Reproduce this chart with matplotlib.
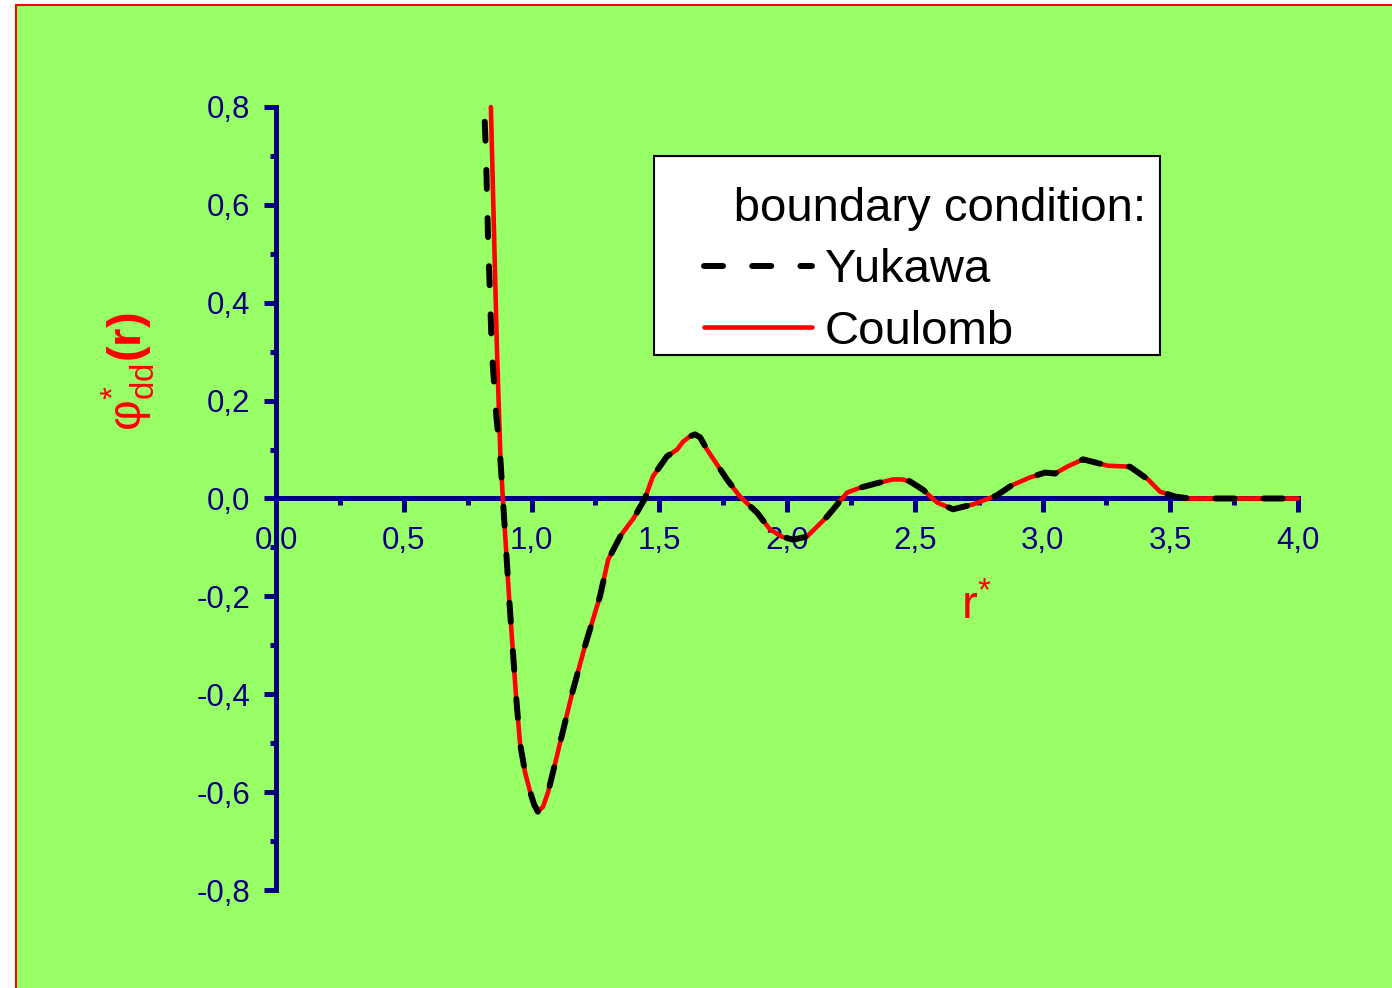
import numpy as np
import matplotlib
matplotlib.use("Agg")
import matplotlib.pyplot as plt
from matplotlib.patches import Rectangle
from matplotlib.ticker import MultipleLocator, FuncFormatter
from matplotlib.legend_handler import HandlerLine2D
from matplotlib.offsetbox import DrawingArea

plt.rcParams['font.family'] = ['Liberation Sans', 'DejaVu Sans']
plt.rcParams['mathtext.fontset'] = 'custom'
plt.rcParams['mathtext.rm'] = 'Liberation Sans'
plt.rcParams['mathtext.it'] = 'Liberation Sans'
plt.rcParams['mathtext.bf'] = 'Liberation Sans:bold'
plt.rcParams['mathtext.default'] = 'regular'
plt.rcParams['lines.scale_dashes'] = False

NAVY = '#000080'
GREEN = '#99ff66'

# common part of both curves (below the first zero crossing)
r_tail = [0.888, 0.912, 0.939, 0.955, 0.975, 0.995, 1.01, 1.025, 1.045, 1.065, 1.10, 1.158,
          1.21, 1.268, 1.30, 1.35, 1.40, 1.444, 1.475, 1.53, 1.57, 1.593,
          1.62, 1.64, 1.66, 1.687, 1.765, 1.816, 1.883, 1.933, 1.98, 2.023, 2.078, 2.157, 2.235,
          2.286, 2.35, 2.415, 2.45, 2.481, 2.532, 2.587, 2.65, 2.728, 2.82, 2.88,
          2.951, 3.01, 3.049, 3.10, 3.159, 3.256, 3.342, 3.413, 3.46, 3.519,
          3.577, 3.70, 4.00]
phi_tail = [0.0, -0.20, -0.40, -0.50, -0.56, -0.60, -0.625, -0.64, -0.63, -0.60, -0.525, -0.40,
            -0.30, -0.20, -0.125, -0.075, -0.04, 0.0, 0.045, 0.086, 0.10, 0.116,
            0.127, 0.131, 0.125, 0.10, 0.039, 0.004, -0.029, -0.063, -0.078, -0.084, -0.078, -0.037, 0.012,
            0.022, 0.031, 0.039, 0.039, 0.035, 0.018, -0.008, -0.022, -0.012, 0.006, 0.027,
            0.043, 0.053, 0.051, 0.066, 0.080, 0.067, 0.065, 0.039, 0.014, 0.004,
            0.0, 0.0, 0.0]

r_coulomb = [0.841, 0.853, 0.865, 0.878] + r_tail
phi_coulomb = [0.80, 0.55, 0.30, 0.09] + phi_tail
r_yukawa = [0.817, 0.822, 0.830, 0.845, 0.862, 0.877] + r_tail
phi_yukawa = [0.77, 0.70, 0.53, 0.30, 0.17, 0.09] + phi_tail

fig = plt.figure(figsize=(13.92, 9.88), dpi=100, facecolor='white')
fig.patches.append(Rectangle((16/1392, -0.01), 1.0, 1.01 - 5/988, transform=fig.transFigure,
                             facecolor=GREEN, edgecolor='red', linewidth=1.5, zorder=-1))

ax = fig.add_axes([276/1392, 98/988, 1022/1392, 783/988])
ax.set_facecolor('none')

coul, = ax.plot(r_coulomb, phi_coulomb, color='red', lw=3.3, solid_joinstyle='round',
                solid_capstyle='round', clip_on=False, zorder=3, label='Coulomb')
yuk, = ax.plot(r_yukawa, phi_yukawa, color='black', lw=4.3, dashes=(13.7, 21),
               dash_capstyle='round', dash_joinstyle='round', clip_on=False, zorder=4,
               label='Yukawa')

ax.set_xlim(0, 4)
ax.set_ylim(-0.8, 0.8)
for s in ['top', 'right']:
    ax.spines[s].set_visible(False)
ax.spines['bottom'].set_position(('data', 0))
for s in ['left', 'bottom']:
    ax.spines[s].set_color(NAVY)
    ax.spines[s].set_linewidth(3.6)

ax.xaxis.set_major_locator(MultipleLocator(0.5))
ax.xaxis.set_minor_locator(MultipleLocator(0.25))
ax.yaxis.set_major_locator(MultipleLocator(0.2))
ax.yaxis.set_minor_locator(MultipleLocator(0.1))
fmt = FuncFormatter(lambda v, p: f'{v:.1f}'.replace('.', ',').replace('-0,0', '0,0'))
ax.xaxis.set_major_formatter(fmt)
ax.yaxis.set_major_formatter(fmt)

ax.tick_params(axis='both', which='both', direction='out', colors=NAVY, width=3.6,
               labelsize=22.5, labelcolor=NAVY, pad=10)
ax.tick_params(axis='x', which='major', length=10)
ax.tick_params(axis='x', which='minor', length=5)
ax.tick_params(axis='y', which='major', length=8.6)
ax.tick_params(axis='y', which='minor', length=4.5)

ax.set_xlabel(r'$r^{*}$', fontsize=34, color='red')
ax.xaxis.set_label_coords(0.685, 0.39)
ax.set_ylabel(r'$φ^{*}_{dd}\mathbf{(r)}$', fontsize=34, color='red')
ax.yaxis.set_label_coords(-0.1164, 0.662)

hm = {yuk: HandlerLine2D(xpad=1.04), coul: HandlerLine2D(xpad=1.04)}
leg = ax.legend(handles=[yuk, coul], handler_map=hm, title='      boundary condition: ',
                loc='upper left', bbox_to_anchor=(654/1392, 1 - 156/988),
                bbox_transform=fig.transFigure, borderaxespad=0, fontsize=34,
                title_fontsize=34, alignment='left', frameon=True, fancybox=False,
                edgecolor='black', framealpha=1, borderpad=0.02, handlelength=3.32,
                handletextpad=0.28, labelspacing=0.37)
leg.get_frame().set_linewidth(1.5)
# extra space above the title
leg._legend_box._children.insert(0, DrawingArea(0, 9))

fig.savefig('out.png', dpi=100, facecolor='white')
